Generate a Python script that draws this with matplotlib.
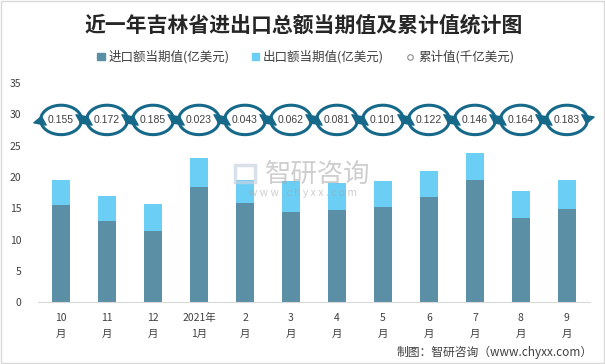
import numpy as np
import matplotlib.pyplot as plt
from matplotlib.patches import Patch, Rectangle
from matplotlib.lines import Line2D

plt.rcParams['font.family'] = ['Noto Sans CJK SC', 'DejaVu Sans']

# data
months = ["10\n月", "11\n月", "12\n月", "2021年\n1月", "2\n月", "3\n月",
          "4\n月", "5\n月", "6\n月", "7\n月", "8\n月", "9\n月"]
imports = [15.5, 12.9, 11.35, 18.35, 15.8, 14.4, 14.7, 15.2, 16.8, 19.5, 13.4, 14.9]
totals = [19.5, 16.9, 15.65, 23.0, 19.5, 19.3, 19.0, 19.3, 20.9, 23.8, 17.7, 19.5]
exports = [t - i for t, i in zip(totals, imports)]
cumulative = ["0.155", "0.172", "0.185", "0.023", "0.043", "0.062",
              "0.081", "0.101", "0.122", "0.146", "0.164", "0.183"]
marker_level = 29.1

dark = "#5B8FA6"
light = "#6BCEF5"
ring = "#17698A"

fig = plt.figure(figsize=(6.05, 3.64), dpi=100)
ax = fig.add_axes([0.063, 0.170, 0.912, 0.602])

x = np.arange(len(months))
ax.bar(x, imports, width=0.39, color=dark, zorder=2)
ax.bar(x, exports, width=0.39, bottom=imports, color=light, zorder=2)

ax.set_xlim(-0.5, len(months) - 0.5)
ax.set_ylim(0, 35)
ax.set_yticks(range(0, 36, 5))
ax.set_xticks(x)
ax.set_xticklabels(months, fontsize=7.5, color="#404040", linespacing=1.75)
ax.tick_params(axis='y', length=0, labelsize=7.5, labelcolor="#404040", pad=12)
ax.tick_params(axis='x', length=0, pad=8)
for s in ["top", "right", "left"]:
    ax.spines[s].set_visible(False)
ax.spines["bottom"].set_color("#d9d9d9")

# circular arrow markers around the cumulative values
rx, ry = 0.445, 2.35
def ring_arc(cx, cy, a0, a1):
    t = np.radians(np.linspace(a0, a1, 40))
    xs = cx + rx * np.cos(t)
    ys = cy + ry * np.sin(t)
    ax.plot(xs[:-4], ys[:-4], color=ring, lw=2.2, solid_capstyle='butt', zorder=3,
            clip_on=False)
    ax.annotate("", xy=(xs[-1], ys[-1]), xytext=(xs[-5], ys[-5]),
                arrowprops=dict(arrowstyle="-|>,head_length=0.55,head_width=0.45",
                                color=ring, lw=1.0, shrinkA=0, shrinkB=0),
                zorder=3, annotation_clip=False)

for xi, lab in zip(x, cumulative):
    ring_arc(xi, marker_level, 183, -18)
    ring_arc(xi, marker_level, 3, -198)
    ax.text(xi, marker_level, lab, ha="center", va="center", fontsize=7.5,
            color="#404040", family=["Liberation Sans", "DejaVu Sans"], zorder=4)

# title and legend
fig.text(0.502, 0.931, "近一年吉林省进出口总额当期值及累计值统计图", ha="center", va="center",
         fontsize=15, fontweight="bold", color="#262626")
handles = [Patch(color=dark), Patch(color=light),
           Line2D([], [], marker='o', ls='none', mfc='white', mec='#8c8c8c',
                  ms=4, mew=0.8)]
labels = ["进口额当期值(亿美元)", "出口额当期值(亿美元)", "累计值(千亿美元)"]
fig.legend(handles, labels, loc="center", bbox_to_anchor=(0.505, 0.843), ncol=3,
           frameon=False, fontsize=9, handlelength=0.6, handleheight=0.6,
           handletextpad=0.3, columnspacing=1.8, labelcolor="#404040")

# watermark
fig.patches.append(Rectangle((0.388, 0.500), 0.034, 0.048, transform=fig.transFigure,
                             fill=False, ec="#c8d3e0", lw=2.5, alpha=0.7))
fig.text(0.525, 0.522, "智研咨询", ha="center", va="center", fontsize=19,
         color="#a6a6a6", alpha=0.55)
fig.text(0.501, 0.469, "w w w . c h y x x . c o m", ha="center", va="center",
         fontsize=7.5, color="#a6a6a6", alpha=0.55)

# source
fig.text(0.979, 0.033, "制图：智研咨询（www.chyxx.com）", ha="right", va="center",
         fontsize=8.5, color="#404040")

fig.patches.append(Rectangle((0.001, 0.002), 0.997, 0.995, transform=fig.transFigure,
                             fill=False, ec="#d9d9d9", lw=1))

fig.savefig("out.png", dpi=100)
